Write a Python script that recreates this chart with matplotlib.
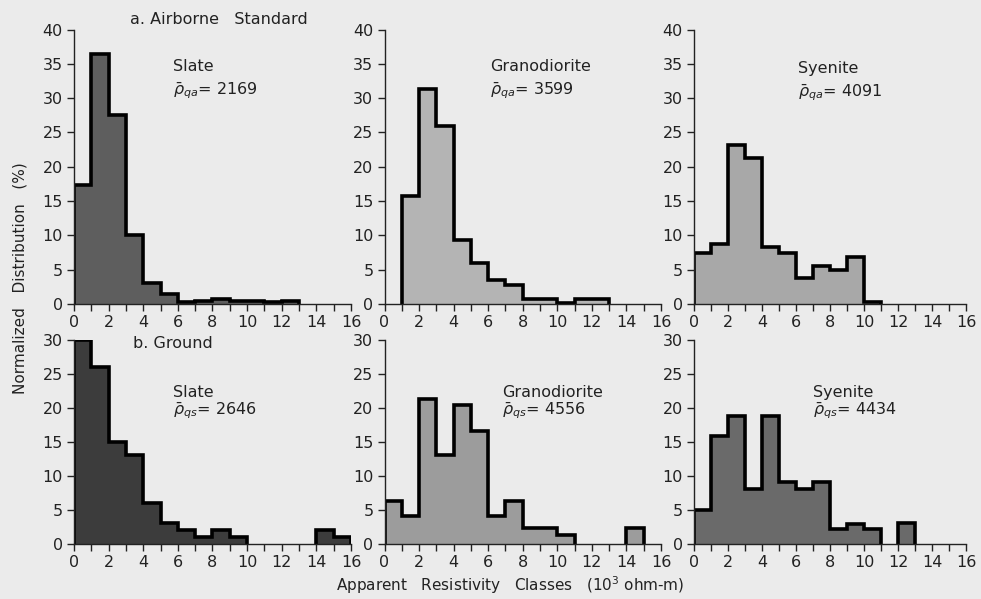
import numpy as np
import matplotlib
matplotlib.use("Agg")
import matplotlib.pyplot as plt

# 各类别的分级 (1000 ohm-m 一格)
edges = np.arange(0, 17)

# a. Airborne Standard
slate_a = [17.3, 36.5, 27.5, 10, 3, 1.5, 0.3, 0.5, 0.8, 0.5, 0.5, 0.3, 0.5, 0, 0, 0]
grano_a = [0, 15.8, 31.3, 26, 9.3, 6, 3.5, 2.7, 0.7, 0.7, 0.2, 0.7, 0.7, 0, 0, 0]
syen_a = [7.5, 8.8, 23.2, 21.3, 8.3, 7.5, 3.8, 5.6, 5, 6.8, 0.3, 0, 0, 0, 0, 0]

# b. Ground
slate_b = [30, 26, 15, 13, 6, 3, 2, 1, 2, 1, 0, 0, 0, 0, 2, 1]
grano_b = [6.3, 4, 21.3, 13, 20.3, 16.5, 4, 6.2, 2.3, 2.3, 1.3, 0, 0, 0, 2.3, 0]
syen_b = [5, 15.8, 18.8, 8, 18.8, 9, 8, 9, 2.2, 2.8, 2.2, 0, 3, 0, 0, 0]

names = ["Slate", "Granodiorite", "Syenite"]
means_a = ["2169", "3599", "4091"]
means_b = ["2646", "4556", "4434"]

BG = "#ebebeb"
TXT = "#222222"

fig = plt.figure(figsize=(9.81, 5.99), dpi=100, facecolor=BG)

W, H = 981.0, 599.0
lefts = [74, 384.5, 694]
rights = [351, 661, 966]


def make_ax(i, y0, y1):
    return fig.add_axes([lefts[i] / W, 1 - y0 / H,
                         (rights[i] - lefts[i]) / W, (y0 - y1) / H])


def outline(ax, vals):
    # 只给非零的连续区段描黑边，零值处不画
    vals = np.asarray(vals, dtype=float)
    i = 0
    n = len(vals)
    while i < n:
        if vals[i] > 0:
            j = i
            while j < n and vals[j] > 0:
                j += 1
            ax.stairs(vals[i:j], edges[i:j + 1], color="black", lw=2.6,
                      baseline=0, zorder=2)
            i = j
        else:
            i += 1


def draw(ax, vals, fill, ymax, name, sub, mean, tx, ty):
    ax.set_facecolor(BG)
    ax.bar(edges[:-1], vals, width=1, align="edge", color=fill,
           edgecolor="none", zorder=1)
    outline(ax, vals)
    ax.set_xlim(0, 16)
    ax.set_ylim(0, ymax)
    ax.set_xticks(np.arange(0, 17, 2))
    ax.set_xticks(np.arange(1, 17, 2), minor=True)
    ax.set_yticks(np.arange(0, ymax + 1, 5))
    for s in ["top", "right"]:
        ax.spines[s].set_visible(False)
    for s in ["left", "bottom"]:
        ax.spines[s].set_linewidth(1.0)
        ax.spines[s].set_color(TXT)
        ax.spines[s].set_zorder(3)
    ax.tick_params(which="both", direction="out", length=5, width=1,
                   labelsize=11.5, colors=TXT, pad=3)
    ax.text(tx, ty, name, fontsize=11.5, color=TXT)
    ax.text(tx, ty - 0.085 * ymax, r"$\bar{\rho}_{%s}$= %s" % (sub, mean),
            fontsize=11.5, color=TXT)


top_fill = ["#5e5e5e", "#b4b4b4", "#a8a8a8"]
bot_fill = ["#3c3c3c", "#9c9c9c", "#6a6a6a"]
top_vals = [slate_a, grano_a, syen_a]
bot_vals = [slate_b, grano_b, syen_b]
top_pos = [(5.7, 33.9), (6.1, 33.9), (6.1, 33.6)]
bot_pos = [(5.7, 21.5), (6.8, 21.5), (7.0, 21.6)]

for i in range(3):
    ax = make_ax(i, 304, 29.5)
    draw(ax, top_vals[i], top_fill[i], 40, names[i], "qa", means_a[i], *top_pos[i])
    ax = make_ax(i, 543.5, 339.5)
    draw(ax, bot_vals[i], bot_fill[i], 30, names[i], "qs", means_b[i], *bot_pos[i])

fig.text(130 / W, 1 - 20 / H, "a. Airborne   Standard", fontsize=11.5,
         color=TXT, va="center", ha="left")
fig.text(133 / W, 1 - 344 / H, "b. Ground", fontsize=11.5,
         color=TXT, va="center", ha="left")
fig.text(20 / W, 1 - 278 / H, "Normalized   Distribution   (%)", fontsize=11,
         color=TXT, rotation=90, va="center", ha="center")
fig.text(510 / W, 1 - 585 / H,
         r"Apparent   Resistivity   Classes   (10$^3$ ohm-m)", fontsize=11,
         color=TXT, va="center", ha="center")

fig.savefig("out.png", dpi=100, facecolor=BG)
